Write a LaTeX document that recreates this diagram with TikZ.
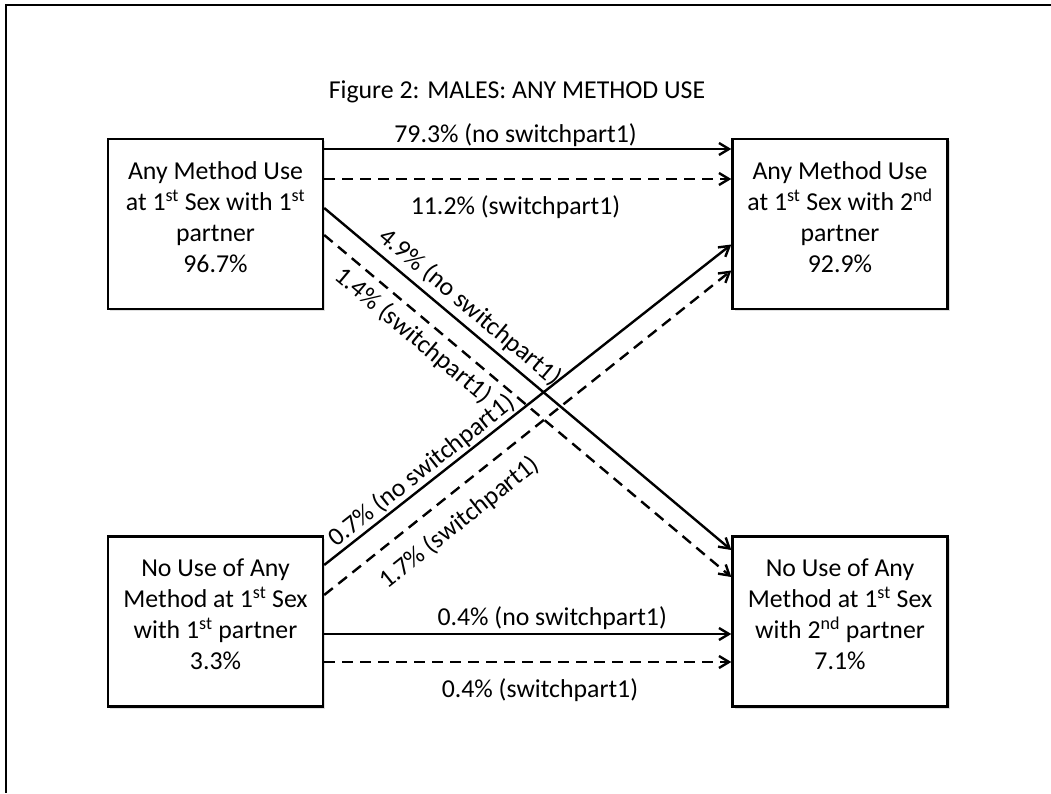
\documentclass[tikz,border=0pt]{standalone}
\usepackage{fontspec}
\setmainfont{Carlito}
\usetikzlibrary{positioning,arrows.meta,shadows}
\tikzset{
  mainbox/.style={rectangle, draw, line width=2.4pt, minimum width=215pt, minimum height=170pt, inner sep=2pt, align=center, fill=white,
                  text depth=14pt, drop shadow={shadow xshift=2pt, shadow yshift=-2pt, opacity=0.25}},
  fwd/.style={-{Straight Barb[length=10pt,width=12pt]}, line width=2.4pt},
  fwddash/.style={fwd, dash pattern=on 11pt off 7pt},
}

\begin{document}
\begin{tikzpicture}[x=1pt, y=1pt, every node/.style={font=\fontsize{25.8}{31}\selectfont}]
  \useasboundingbox (0,0) rectangle (1051,793);
  \draw[line width=2.4pt] (1051,788) -- (6,788) -- (6,0);

  \node (node0) at (517,701) {Figure 2: MALES: ANY METHOD USE};
  \node[mainbox] (node1) at (215.5,569) {Any Method Use\\at 1\textsuperscript{st} Sex with 1\textsuperscript{st}\\partner\\96.7\%};
  \node[mainbox] (node2) at (840,569) {Any Method Use\\at 1\textsuperscript{st} Sex with 2\textsuperscript{nd}\\partner\\92.9\%};
  \node[mainbox] (node3) at (215.5,171.5) {No Use of Any\\Method at 1\textsuperscript{st} Sex\\with 1\textsuperscript{st} partner\\3.3\%};
  \node[mainbox] (node4) at (840,171.5) {No Use of Any\\Method at 1\textsuperscript{st} Sex\\with 2\textsuperscript{nd} partner\\7.1\%};

  \draw[fwd] ([yshift=75pt]node1.east) -- ([yshift=75pt]node2.west)
    node[pos=0.47, above, inner sep=1pt] {79.3\% (no switchpart1)};
  \draw[fwddash] ([yshift=45pt]node1.east) -- ([yshift=45pt]node2.west)
    node[pos=0.47, below, inner sep=15pt] {11.2\% (switchpart1)};
  \draw[fwd] ([yshift=16pt]node1.east) -- ([yshift=71.5pt]node4.west)
    node[pos=0.33, above, sloped, inner sep=5pt] {4.9\% (no switchpart1)};
  \draw[fwddash] ([yshift=-11pt]node1.east) -- ([yshift=44.5pt]node4.west)
    node[pos=0.25, below, sloped, inner sep=7pt] {1.4\% (switchpart1)};
  \draw[fwd] ([yshift=56.5pt]node3.east) -- ([yshift=-20.5pt]node2.west)
    node[pos=0.26, above, sloped, inner sep=1pt] {0.7\% (no switchpart1)};
  \draw[fwddash] ([yshift=26.5pt]node3.east) -- ([yshift=-46.5pt]node2.west)
    node[pos=0.29, below, sloped, inner sep=15pt] {1.7\% (switchpart1)};
  \draw[fwd] ([yshift=-12.5pt]node3.east) -- ([yshift=-12.5pt]node4.west)
    node[pos=0.56, above, inner sep=3pt] {0.4\% (no switchpart1)};
  \draw[fwddash] ([yshift=-40.5pt]node3.east) -- ([yshift=-40.5pt]node4.west)
    node[pos=0.53, below, inner sep=15pt] {0.4\% (switchpart1)};
\end{tikzpicture}
\end{document}
